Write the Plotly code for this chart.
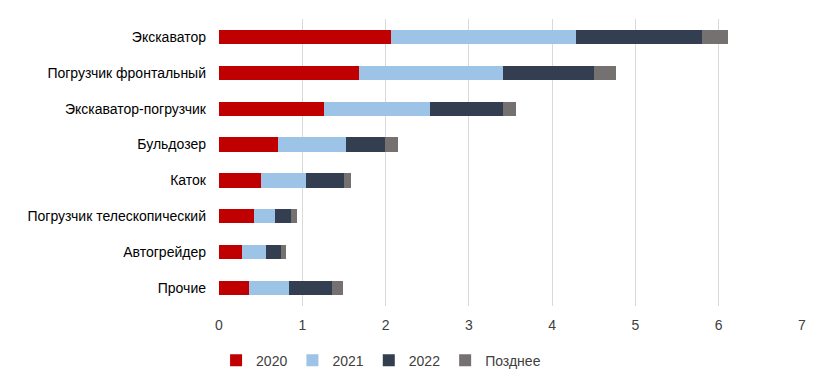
import plotly.graph_objects as go

categories = ["Экскаватор", "Погрузчик фронтальный", "Экскаватор-погрузчик", "Бульдозер",
              "Каток", "Погрузчик телескопический", "Автогрейдер", "Прочие"]
s2020 = [2.07, 1.68, 1.26, 0.71, 0.50, 0.42, 0.28, 0.36]
s2021 = [2.22, 1.73, 1.27, 0.82, 0.54, 0.25, 0.29, 0.48]
s2022 = [1.51, 1.09, 0.88, 0.46, 0.46, 0.19, 0.18, 0.52]
later = [0.31, 0.27, 0.16, 0.16, 0.08, 0.08, 0.05, 0.13]
series_names = ["2020", "2021", "2022", "Позднее"]
colors = ["#C00000", "#9DC3E6", "#333F50", "#767171"]
x_ticks = [0, 1, 2, 3, 4, 5, 6, 7]

fig = go.Figure()
for name, vals, col in zip(series_names, [s2020, s2021, s2022, later], colors):
    fig.add_trace(go.Bar(y=categories, x=vals, name=name, orientation="h",
                         marker=dict(color=col, line=dict(width=0)), width=0.4))

font = "Liberation Sans, Arial, sans-serif"
fig.update_layout(
    barmode="stack",
    width=840, height=388,
    margin=dict(l=211, r=46, t=11, b=90, autoexpand=False),
    plot_bgcolor="white", paper_bgcolor="white",
    font=dict(family=font, size=14, color="#262626"),
    xaxis=dict(range=[0, 7], tickvals=x_ticks, showgrid=True, gridcolor="#D9D9D9",
               gridwidth=1, zeroline=False, showline=False, ticks="",
               ticklabelstandoff=9,
               tickfont=dict(size=14, color="#404040")),
    yaxis=dict(autorange="reversed", showgrid=False, ticks="", showline=False,
               ticklabelstandoff=12, automargin=False,
               tickfont=dict(size=14, color="#000000")),
    legend=dict(orientation="h", x=0.278, xanchor="center", y=-0.19, yanchor="middle",
                font=dict(size=14, color="#404040"), itemwidth=30, traceorder="normal"),
    bargap=0.6,
)
fig.write_html("out.html")
